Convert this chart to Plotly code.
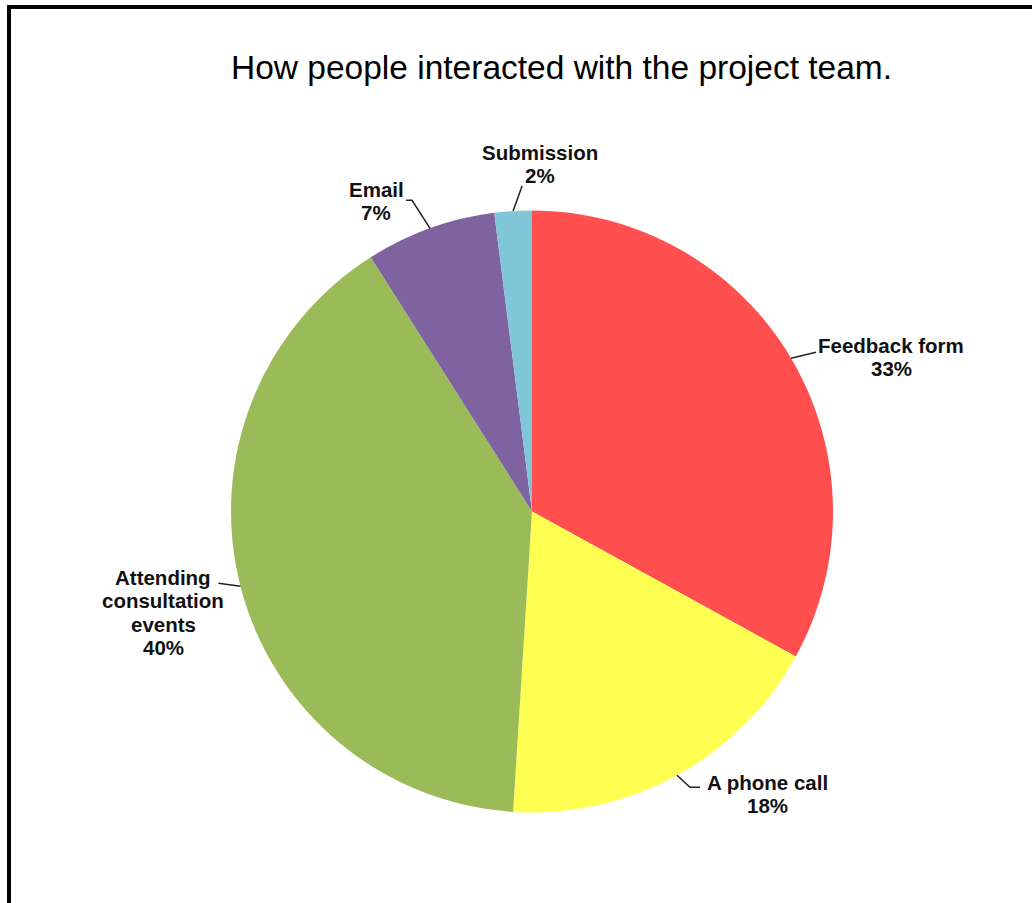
import math
import plotly.graph_objects as go

# Chart data
categories = ["Feedback form", "A phone call", "Attending consultation events", "Email", "Submission"]
label_lines = [["Feedback form"], ["A phone call"], ["Attending", "consultation", "events"], ["Email"], ["Submission"]]
values = [33, 18, 40, 7, 2]
colors = ["#FF4F4F", "#FFFF52", "#9BBB59", "#7F63A1", "#7EC6D8"]
title_text = "How people interacted with the project team."

# Canvas and pie geometry (pixels)
W, H = 1032, 903
CX, CY, R = 532, 511.5, 301

# Label placement relative to each slice's mid-angle edge point:
# (dx, dy) of the first label line's centre, and the leader polyline knees.
label_offsets = [(100, -13), (90, 7), (-77, -9), (-54, -39), (27, -59)]
leader_knees = [
    [(25, -6)],
    [(13, 12), (23, 12)],
    [(-22, -3)],
    [(-18, -28), (-24, -28)],
    [(9, -25)],
]
LINE_GAP = 23.5


def px(x):
    return x / W


def py(y):
    return 1 - y / H


fig = go.Figure(
    go.Pie(
        labels=categories,
        values=values,
        marker=dict(colors=colors, line=dict(width=0)),
        sort=False,
        direction="clockwise",
        rotation=0,
        textinfo="none",
        hoverinfo="label+percent",
        showlegend=False,
        domain=dict(x=[px(CX - R), px(CX + R)], y=[py(CY + R), py(CY - R)]),
    )
)

annotations = []
shapes = []
total = sum(values)
cum = 0
for i, v in enumerate(values):
    mid = (cum + v / 2) / total * 2 * math.pi
    cum += v
    ax = CX + R * math.sin(mid)
    ay = CY - R * math.cos(mid)
    pct = f"{round(v / total * 100)}%"
    lines = label_lines[i] + [pct]
    dx, dy = label_offsets[i]
    for k, t in enumerate(lines):
        annotations.append(dict(
            x=px(ax + dx), y=py(ay + dy + k * LINE_GAP),
            xref="paper", yref="paper", text=f"<b>{t}</b>", showarrow=False,
            xanchor="center", yanchor="middle",
            font=dict(family="Liberation Sans, Arial", size=20.5, color="#111111"),
        ))
    pts = [(ax, ay)] + [(ax + kx, ay + ky) for kx, ky in leader_knees[i]]
    path = "M " + " L ".join(f"{px(x)},{py(y)}" for x, y in pts)
    shapes.append(dict(type="path", xref="paper", yref="paper", path=path,
                       line=dict(color="#222222", width=1.5)))

annotations.append(dict(
    x=px(561), y=py(68), xref="paper", yref="paper", text=title_text,
    showarrow=False, xanchor="center", yanchor="middle",
    font=dict(family="Liberation Sans, Arial", size=33.5, color="#000000"),
))

# Frame (top and left edges visible)
shapes.append(dict(type="rect", xref="paper", yref="paper",
                   x0=px(9), y0=py(7), x1=px(W + 20), y1=py(H + 20),
                   line=dict(color="#000000", width=4), fillcolor="rgba(0,0,0,0)"))

fig.update_layout(
    width=W, height=H,
    margin=dict(l=0, r=0, t=0, b=0),
    paper_bgcolor="white",
    plot_bgcolor="white",
    annotations=annotations,
    shapes=shapes,
)

fig.write_html("out.html")
